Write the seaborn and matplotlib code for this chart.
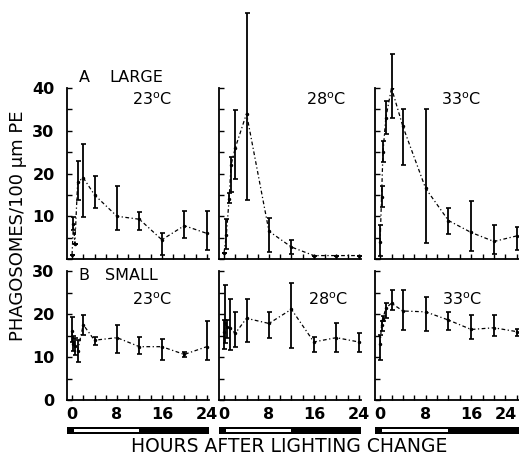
import numpy as np
import seaborn as sns
import matplotlib.pyplot as plt

# hours after lighting change
HOURS = [0, 0.25, 0.5, 1, 2, 4, 8, 12, 16, 20, 24]
HOURS_L28 = [0, 0.4, 0.9, 1.25, 2, 4, 8, 12, 16, 20, 24]

# A  LARGE phagosomes / 100 um PE  (mean, lower and upper end of bar)
LARGE_23 = [1, 8.3, 3.6, 18, 19, 15, 10, 9.3, 4.5, 7.8, 6]
LARGE_23_LO = [1, 6.8, 3.6, 13.8, 9.9, 11.9, 6.8, 6.8, 0.9, 4.8, 2.1]
LARGE_23_HI = [1, 9.8, 3.6, 23, 27, 19.3, 17, 11.1, 6, 11.2, 11.2]

LARGE_28 = [1.5, 5.5, 14, 22, 26, 34, 6.5, 2.8, 0.8, 0.8, 0.8]
LARGE_28_LO = [1.5, 2.3, 13, 15.6, 18.8, 13.7, 1.6, 1.2, 0.8, 0.8, 0.8]
LARGE_28_HI = [1.5, 9.4, 15.5, 23.8, 34.8, 57.5, 9.5, 4.5, 0.8, 0.8, 0.8]

LARGE_33 = [4, 14.5, 25, 33, 40, 31, 16.5, 9, 6.2, 4.1, 5.4]
LARGE_33_LO = [0.6, 12.2, 22.7, 29.3, 33, 22, 3.7, 5.9, 1.8, 1.2, 2.2]
LARGE_33_HI = [8, 17, 27.7, 37, 48, 35, 35, 12, 13.6, 8, 7.4]

# B  SMALL
SMALL_23 = [16, 13, 12.5, 11.5, 17.5, 13.9, 14.5, 12.4, 12.4, 10.6, 12.4]
SMALL_23_LO = [13.6, 11.5, 10.5, 8.9, 15.1, 12.8, 10.9, 10.6, 9.3, 10, 9.3]
SMALL_23_HI = [19.4, 15, 14.5, 13.9, 19.8, 14.7, 17.5, 14.7, 14.3, 11.2, 18.4]

SMALL_28 = [15.9, 17.8, 17, 16.7, 15.5, 19, 17.8, 21.1, 13.5, 14.5, 13.5]
SMALL_28_LO = [11.9, 13.2, 14.5, 11.6, 12.4, 13.4, 14.4, 12, 11.2, 11.2, 11.2]
SMALL_28_HI = [18.5, 26.7, 18.5, 23.6, 20.5, 23.6, 20.5, 27.1, 14.7, 17.8, 15.5]

SMALL_33 = [13, 17.5, 18.9, 21.4, 22.5, 20.7, 20.5, 18.6, 16.4, 16.8, 15.9]
SMALL_33_LO = [9.3, 16, 18.3, 19, 21, 16.3, 16, 16.3, 14.3, 15, 14.8]
SMALL_33_HI = [15.1, 18.3, 19.5, 22.5, 25.6, 25.6, 24, 20.5, 19.7, 19.7, 16.4]

TEMPS = ["23", "28", "33"]
LIGHT_ON, LIGHT_OFF = 0.3, 12

sns.set_style("ticks")
plt.rcParams["font.family"] = ["DejaVu Sans"]
plt.rcParams.update({"text.color": "black", "axes.labelcolor": "black",
                     "xtick.color": "black", "ytick.color": "black",
                     "axes.edgecolor": "black"})

W, H = 519, 455
fig = plt.figure(figsize=(W / 100, H / 100), dpi=100)


def box(x0, ytop, w, h):
    return [x0 / W, 1 - (ytop + h) / H, w / W, h / H]


def px(x, y):
    return x / W, 1 - y / H


col_x = [67, 219, 375]
col_w = [142, 142, 144]

large = [
    (HOURS, LARGE_23, LARGE_23_LO, LARGE_23_HI),
    (HOURS_L28, LARGE_28, LARGE_28_LO, LARGE_28_HI),
    (HOURS, LARGE_33, LARGE_33_LO, LARGE_33_HI),
]
small = [
    (HOURS, SMALL_23, SMALL_23_LO, SMALL_23_HI),
    (HOURS, SMALL_28, SMALL_28_LO, SMALL_28_HI),
    (HOURS, SMALL_33, SMALL_33_LO, SMALL_33_HI),
]

tick_font = dict(fontsize=11.5, fontweight="bold")

for row, (data, ytop, h, ymax) in enumerate([(large, 88, 171, 40), (small, 271, 129, 30)]):
    for col in range(3):
        t, y, lo, hi = [np.array(a, dtype=float) for a in data[col]]
        ax = fig.add_axes(box(col_x[col], ytop, col_w[col], h))
        sns.lineplot(x=t, y=y, ax=ax, color="black", lw=0.9, linestyle=(0, (3, 2, 1, 2)),
                     marker="o", markersize=2.5, markeredgewidth=0, errorbar=None)
        eb = ax.errorbar(t, y, yerr=[y - lo, hi - y], fmt="none", ecolor="black",
                         elinewidth=1.3, capsize=1.8, capthick=1.2)
        for art in eb.get_children():
            art.set_clip_on(False)
        ax.set_xlim(-0.9, 24.4)
        ax.set_ylim(0, ymax)
        sns.despine(ax=ax)
        for s in ["left", "bottom"]:
            ax.spines[s].set_linewidth(1.3)
        ax.set_xticks([0, 8, 16, 24])
        ax.set_xticks(np.arange(0, 25, 2), minor=True)
        ax.set_yticks(np.arange(0, ymax + 1, 5))
        ax.tick_params(which="both", direction="in", length=3.5, width=1)
        if row == 1:
            xl = ax.set_xticklabels(["0", "8", "16", "24"], **tick_font)
            ax.tick_params(axis="x", pad=5)
            if col == 2:
                xl[-1].set_ha("right")
        else:
            ax.set_xticklabels([])
        if col == 0:
            labs = []
            for v in np.arange(0, ymax + 1, 5):
                if v % 10 == 0 and not (row == 0 and v == 0):
                    labs.append(str(int(v)))
                else:
                    labs.append("")
            ax.set_yticklabels(labs, **tick_font)
            ax.tick_params(axis="y", pad=9)
        else:
            ax.set_yticklabels([])
        ax.set_xlabel("")
        ax.set_ylabel("")

# light / dark bars
for col in range(3):
    bx = fig.add_axes(box(col_x[col], 427, col_w[col], 7))
    bx.set_xlim(-0.9, 24.4)
    bx.set_ylim(0, 1)
    bx.set_facecolor("black")
    bx.axvspan(LIGHT_ON, LIGHT_OFF, ymin=0.25, ymax=0.75, color="white", lw=0)
    bx.set_xticks([])
    bx.set_yticks([])
    for s in bx.spines.values():
        s.set_visible(False)

# panel labels
fig.text(*px(84, 77), "A", fontsize=11.5, ha="center", va="center")
fig.text(*px(136, 77), "LARGE", fontsize=11.5, ha="center", va="center")
fig.text(*px(84, 276), "B", fontsize=11.5, ha="center", va="center")
fig.text(*px(131, 276), "SMALL", fontsize=11.5, ha="center", va="center")

temp_pos = [[(152, 100), (326, 100), (461, 100)], [(152, 300), (328, 300), (462, 300)]]
for row in range(2):
    for col in range(3):
        fig.text(*px(*temp_pos[row][col]), TEMPS[col] + r"$^{\mathrm{o}}$C",
                 fontsize=11.5, ha="center", va="center")

fig.text(*px(18, 226), "PHAGOSOMES/100 \u03bcm PE", rotation=90, fontsize=13,
         ha="center", va="center")
fig.text(*px(289, 446), "HOURS AFTER LIGHTING CHANGE", fontsize=13.5,
         ha="center", va="center")

fig.savefig("out.png", dpi=100)
